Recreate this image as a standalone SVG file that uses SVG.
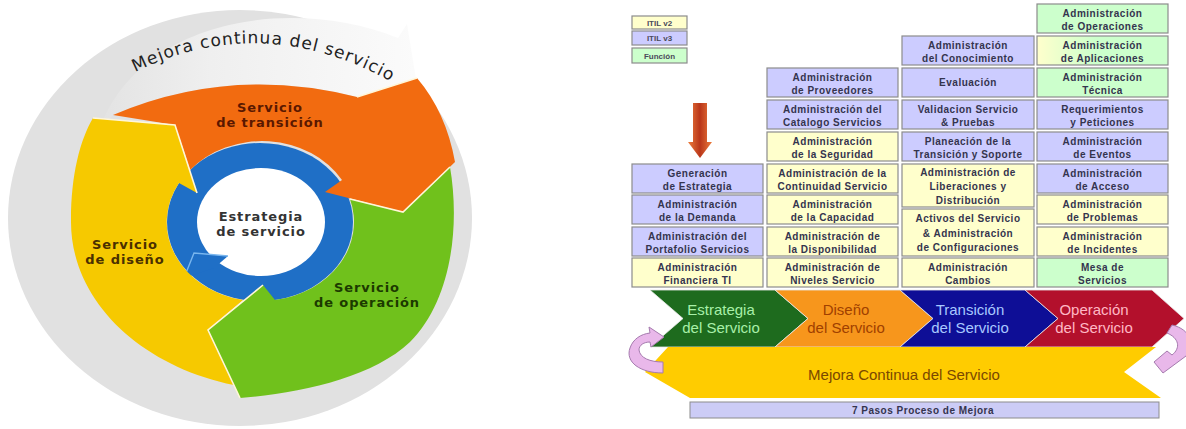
<svg xmlns="http://www.w3.org/2000/svg" width="1186" height="429" viewBox="0 0 1186 429">
  <defs>
    <style>
      .cell{stroke:#8c8c8c;stroke-width:1.2}
      .v2{fill:#ffffcc}
      .v3{fill:#ccccff}
      .fn{fill:#ccffcc}
      .ct{font-family:"Liberation Sans",Arial,sans-serif;font-size:10px;font-weight:bold;fill:#34344e;text-anchor:middle;letter-spacing:0.5px}
      .lg{font-family:"Liberation Sans",Arial,sans-serif;font-size:8px;font-weight:bold;fill:#4a4a5a;text-anchor:middle}
      .lt{font-family:"DejaVu Sans",Verdana,sans-serif;font-size:13px;font-weight:bold;text-anchor:middle;letter-spacing:0.9px}
      .ch{font-family:"Liberation Sans",Arial,sans-serif;font-size:15px;text-anchor:middle}
      .chev{stroke:#e8e8e8;stroke-width:0.8}
      .seam{fill:none;stroke:#fff6d8;stroke-width:1.6}
      .loop{fill:#e9b8ea;stroke:#a57aae;stroke-width:1}
    </style>
    <linearGradient id="csiBand" gradientUnits="userSpaceOnUse" x1="100" y1="0" x2="415" y2="0">
      <stop offset="0" stop-color="#e3e3e3"/>
      <stop offset="0.35" stop-color="#efefef"/>
      <stop offset="1" stop-color="#fbfbfb"/>
    </linearGradient>
    <linearGradient id="appsFill" x1="0" y1="0" x2="1" y2="0">
      <stop offset="0" stop-color="#ffffcc"/>
      <stop offset="0.45" stop-color="#ccffcc"/>
      <stop offset="1" stop-color="#ccffcc"/>
    </linearGradient>
    <linearGradient id="downFill" x1="0" y1="0" x2="1" y2="0">
      <stop offset="0" stop-color="#ec7c3c"/>
      <stop offset="0.5" stop-color="#b9361a"/>
      <stop offset="1" stop-color="#ec7c3c"/>
    </linearGradient>
    <path id="csiText" d="M 135,72 Q 262,10 392,82"/>
  </defs>

  <rect width="1186" height="429" fill="#ffffff"/>

  <!-- Service lifecycle wheel -->
  <g id="lifecycle">
    <ellipse id="csi-ring" cx="240" cy="218" rx="232" ry="208" fill="#e1e1e1"/>
    <g id="csi-arrow">
      <path d="M 100,128 C 140,20 290,-5 398,38 L 407,24 L 416,79 L 357,97 Q 230,65 113,115 Z" fill="url(#csiBand)"/>
      <text font-family="DejaVu Sans, Verdana, sans-serif" font-size="17" letter-spacing="1" fill="#222222">
        <textPath href="#csiText">Mejora continua del servicio</textPath>
      </text>
    </g>

    <g id="strategy">
      <ellipse cx="260" cy="222" rx="93" ry="79" fill="#1f6fc6"/>
      <ellipse cx="261" cy="222" rx="64" ry="54" fill="#ffffff"/>
      <path d="M 228,256 L 194,253 L 184,278 L 214,268 Z" fill="#1f6fc6"/>
      <polyline points="228,256 194,253 184,278" fill="none" stroke="#79b6ee" stroke-width="1.4"/>
      <text class="lt" x="261" y="221" fill="#333333">Estrategia</text>
      <text class="lt" x="261" y="236" fill="#333333">de servicio</text>
    </g>

    <g id="transition">
      <path d="M 113,115 Q 230,65 357,97 L 417,78 Q 446,112 455,162 L 403,212 L 325,192 L 342,180 A 93 79 0 0 0 190,170 L 175,125 Z" fill="#f26b10"/>
      <text class="lt" x="270" y="112" fill="#5a1800">Servicio</text>
      <text class="lt" x="270" y="127" fill="#5a1800">de transición</text>
    </g>

    <g id="design">
      <path d="M 93,118 L 175,125 L 197,193 L 179,183 A 93 79 0 0 0 243,300 L 208,330 L 234,385 C 140,366 70,300 71,220 C 71,175 80,140 93,118 Z" fill="#f6c900"/>
      <text class="lt" x="125" y="249" fill="#4a3000">Servicio</text>
      <text class="lt" x="125" y="264" fill="#4a3000">de diseño</text>
    </g>

    <g id="operation">
      <path d="M 403,212 L 450,167 C 460,225 452,300 410,342 C 372,378 300,393 240,398 L 208,330 L 263,285 L 275,300 A 93 79 0 0 0 350,199 Z" fill="#70c11c"/>
      <text class="lt" x="367" y="292" fill="#1c3a00">Servicio</text>
      <text class="lt" x="367" y="307" fill="#1c3a00">de operación</text>
    </g>

    <!-- light seams between the arrow segments -->
    <polyline class="seam" points="93,118 175,125 197,193"/>
    <polyline class="seam" points="450,167 403,212 350,199" stroke="#ffffff"/>
    <polyline class="seam" points="263,285 208,330 240,398" stroke="#f4ffe0"/>
    <polyline class="seam" points="357,97 417,78" stroke="#ffffff"/>
  </g>

  <!-- Legend -->
  <g id="legend">
    <rect class="cell v2" x="632" y="16" width="55" height="13"/>
    <text class="lg" x="659.5" y="25.5">ITIL v2</text>
    <rect class="cell v3" x="632" y="31" width="55" height="14"/>
    <text class="lg" x="659.5" y="41">ITIL v3</text>
    <rect class="cell fn" x="632" y="48" width="55" height="15"/>
    <text class="lg" x="659.5" y="58.5" fill="#2e4a2e">Función</text>
  </g>

  <!-- Process table: column 1 (strategy) -->
  <g id="col-strategy">
    <g id="n-generacion"><rect class="cell v3" x="632" y="164" width="131" height="29"/>
      <text class="ct" x="697.5" y="176.5">Generación</text><text class="ct" x="697.5" y="189.5">de Estrategia</text></g>
    <g id="n-demanda"><rect class="cell v3" x="632" y="195" width="131" height="29"/>
      <text class="ct" x="697.5" y="207.5">Administración</text><text class="ct" x="697.5" y="220.5">de la Demanda</text></g>
    <g id="n-portafolio"><rect class="cell v3" x="632" y="227" width="131" height="29"/>
      <text class="ct" x="697.5" y="239.5">Administración del</text><text class="ct" x="697.5" y="252.5">Portafolio Servicios</text></g>
    <g id="n-financiera"><rect class="cell v2" x="632" y="258" width="131" height="29"/>
      <text class="ct" x="697.5" y="270.5">Administración</text><text class="ct" x="697.5" y="283.5">Financiera TI</text></g>
  </g>

  <!-- column 2 (design) -->
  <g id="col-design">
    <g id="n-proveedores"><rect class="cell v3" x="767" y="68" width="131" height="29"/>
      <text class="ct" x="832.5" y="80.5">Administración</text><text class="ct" x="832.5" y="93.5">de Proveedores</text></g>
    <g id="n-catalogo"><rect class="cell v3" x="767" y="100" width="131" height="29"/>
      <text class="ct" x="832.5" y="112.5">Administración del</text><text class="ct" x="832.5" y="125.5">Catalogo Servicios</text></g>
    <g id="n-seguridad"><rect class="cell v2" x="767" y="132" width="131" height="29"/>
      <text class="ct" x="832.5" y="144.5">Administración</text><text class="ct" x="832.5" y="157.5">de la Seguridad</text></g>
    <g id="n-continuidad"><rect class="cell v2" x="767" y="164" width="131" height="29"/>
      <text class="ct" x="832.5" y="176.5" letter-spacing="0">Administración de la</text><text class="ct" x="832.5" y="189.5" letter-spacing="0">Continuidad Servicio</text></g>
    <g id="n-capacidad"><rect class="cell v2" x="767" y="195" width="131" height="29"/>
      <text class="ct" x="832.5" y="207.5">Administración</text><text class="ct" x="832.5" y="220.5">de la Capacidad</text></g>
    <g id="n-disponibilidad"><rect class="cell v2" x="767" y="227" width="131" height="29"/>
      <text class="ct" x="832.5" y="239.5">Administración de</text><text class="ct" x="832.5" y="252.5">la Disponibilidad</text></g>
    <g id="n-niveles"><rect class="cell v2" x="767" y="258" width="131" height="29"/>
      <text class="ct" x="832.5" y="270.5">Administración de</text><text class="ct" x="832.5" y="283.5">Niveles Servicio</text></g>
  </g>

  <!-- column 3 (transition) -->
  <g id="col-transition">
    <g id="n-conocimiento"><rect class="cell v3" x="902" y="36" width="132" height="29"/>
      <text class="ct" x="968" y="48.5">Administración</text><text class="ct" x="968" y="61.5">del Conocimiento</text></g>
    <g id="n-evaluacion"><rect class="cell v3" x="902" y="68" width="132" height="29"/>
      <text class="ct" x="968" y="86">Evaluación</text></g>
    <g id="n-validacion"><rect class="cell v3" x="902" y="100" width="132" height="29"/>
      <text class="ct" x="968" y="112.5">Validacion Servicio</text><text class="ct" x="968" y="125.5">&amp; Pruebas</text></g>
    <g id="n-planeacion"><rect class="cell v3" x="902" y="132" width="132" height="29"/>
      <text class="ct" x="968" y="144.5">Planeación de la</text><text class="ct" x="968" y="157.5">Transición y Soporte</text></g>
    <g id="n-liberaciones"><rect class="cell v2" x="902" y="164" width="132" height="43"/>
      <text class="ct" x="968" y="176">Administración de</text><text class="ct" x="968" y="190">Liberaciones y</text><text class="ct" x="968" y="204">Distribución</text></g>
    <g id="n-activos"><rect class="cell v2" x="902" y="209" width="132" height="47"/>
      <text class="ct" x="968" y="222">Activos del Servicio</text><text class="ct" x="968" y="237">&amp; Administración</text><text class="ct" x="968" y="251">de Configuraciones</text></g>
    <g id="n-cambios"><rect class="cell v2" x="902" y="258" width="132" height="29"/>
      <text class="ct" x="968" y="270.5">Administración</text><text class="ct" x="968" y="283.5">Cambios</text></g>
  </g>

  <!-- column 4 (operation) -->
  <g id="col-operation">
    <g id="n-operaciones"><rect class="cell fn" x="1037" y="4" width="131" height="29"/>
      <text class="ct" x="1102.5" y="16.5">Administración</text><text class="ct" x="1102.5" y="29.5">de Operaciones</text></g>
    <g id="n-aplicaciones"><rect class="cell" fill="url(#appsFill)" x="1037" y="36" width="131" height="29"/>
      <text class="ct" x="1102.5" y="48.5">Administración</text><text class="ct" x="1102.5" y="61.5">de Aplicaciones</text></g>
    <g id="n-tecnica"><rect class="cell fn" x="1037" y="68" width="131" height="29"/>
      <text class="ct" x="1102.5" y="80.5">Administración</text><text class="ct" x="1102.5" y="93.5">Técnica</text></g>
    <g id="n-requerimientos"><rect class="cell v3" x="1037" y="100" width="131" height="29"/>
      <text class="ct" x="1102.5" y="112.5">Requerimientos</text><text class="ct" x="1102.5" y="125.5">y Peticiones</text></g>
    <g id="n-eventos"><rect class="cell v3" x="1037" y="132" width="131" height="29"/>
      <text class="ct" x="1102.5" y="144.5">Administración</text><text class="ct" x="1102.5" y="157.5">de Eventos</text></g>
    <g id="n-acceso"><rect class="cell v3" x="1037" y="164" width="131" height="29"/>
      <text class="ct" x="1102.5" y="176.5">Administración</text><text class="ct" x="1102.5" y="189.5">de Acceso</text></g>
    <g id="n-problemas"><rect class="cell v2" x="1037" y="195" width="131" height="29"/>
      <text class="ct" x="1102.5" y="207.5">Administración</text><text class="ct" x="1102.5" y="220.5">de Problemas</text></g>
    <g id="n-incidentes"><rect class="cell v2" x="1037" y="227" width="131" height="29"/>
      <text class="ct" x="1102.5" y="239.5">Administración</text><text class="ct" x="1102.5" y="252.5">de Incidentes</text></g>
    <g id="n-mesa"><rect class="cell fn" x="1037" y="258" width="131" height="29"/>
      <text class="ct" x="1102.5" y="270.5">Mesa de</text><text class="ct" x="1102.5" y="283.5">Servicios</text></g>
  </g>

  <!-- Lifecycle stages -->
  <g id="stages">
    <g id="s-estrategia">
      <path class="chev" d="M 650,290 L 775,290 L 808,318.5 L 775,347 L 650,347 L 683,318.5 Z" fill="#1e6b1e"/>
      <text class="ch" x="721" y="315" fill="#a8f0a8">Estrategia</text>
      <text class="ch" x="721" y="333" fill="#a8f0a8">del Servicio</text>
    </g>
    <g id="s-diseno">
      <path class="chev" d="M 775,290 L 900,290 L 933,318.5 L 900,347 L 775,347 L 808,318.5 Z" fill="#f7961c"/>
      <text class="ch" x="846" y="315" fill="#a04000">Diseño</text>
      <text class="ch" x="846" y="333" fill="#a04000">del Servicio</text>
    </g>
    <g id="s-transicion">
      <path class="chev" d="M 900,290 L 1025,290 L 1058,318.5 L 1025,347 L 900,347 L 933,318.5 Z" fill="#0e0e96"/>
      <text class="ch" x="970" y="315" fill="#a8c8ff">Transición</text>
      <text class="ch" x="970" y="333" fill="#a8c8ff">del Servicio</text>
    </g>
    <g id="s-operacion">
      <path class="chev" d="M 1025,290 L 1152,290 L 1184,318.5 L 1152,347 L 1025,347 L 1058,318.5 Z" fill="#b3102c"/>
      <text class="ch" x="1094" y="315" fill="#ffb8c4">Operación</text>
      <text class="ch" x="1094" y="333" fill="#ffb8c4">del Servicio</text>
    </g>
    <g id="s-mejora">
      <path d="M 668,347 L 1156,347 L 1124,372 L 1161,398 L 690,398 L 645,372 Z" fill="#ffcc00"/>
      <text class="ch" x="904" y="380" fill="#7a4800">Mejora Continua del Servicio</text>
    </g>
    <g id="s-pasos">
      <rect x="690" y="402" width="469" height="16" fill="#ccccf6" stroke="#8c8c8c" stroke-width="1"/>
      <text class="ct" x="923" y="414" fill="#33336e" letter-spacing="0.6">7 Pasos Proceso de Mejora</text>
    </g>
  </g>

  <!-- Connectors -->
  <g id="connectors">
    <path d="M 693,103 L 707,103 L 707,142 L 712,142 L 700,158 L 688,142 L 693,142 Z" fill="url(#downFill)"/>
    <path class="loop" d="M 663,373 C 640,373 625,362 630,348 C 633,339 641,334 650,333 L 649,327 L 664,337 L 651,347 L 650,342 C 644,342 639,345 639,350 C 640,358 650,362 663,362 Z"/>
    <path class="loop" d="M 1172,325 C 1190,329 1197,345 1186,356 L 1163,373 L 1154,362 L 1167,351 L 1172,355 C 1181,348 1179,338 1167,333 Z"/>
  </g>
</svg>
